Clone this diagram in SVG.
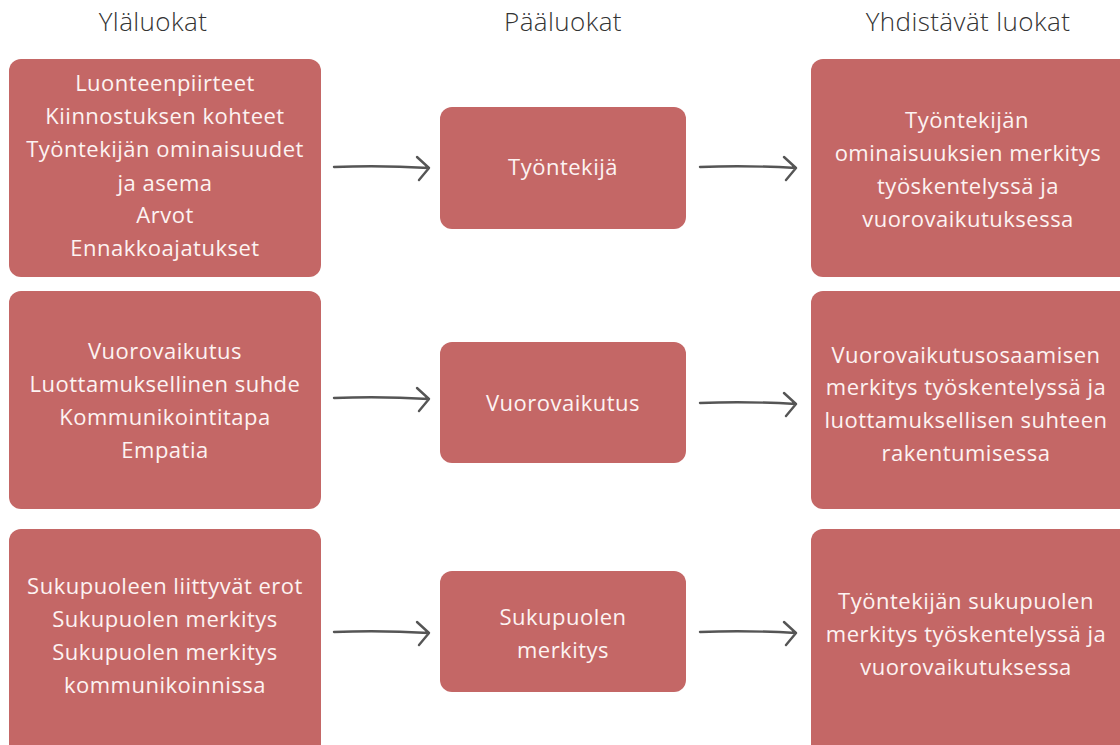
<svg xmlns="http://www.w3.org/2000/svg" width="1120" height="745" viewBox="0 0 1120 745">
<defs>
<style>
.box{fill:#c46766}
.t{font-family:"Open Sans","Liberation Sans",sans-serif;font-size:22px;letter-spacing:0.5px;fill:#fdf3f2;text-anchor:middle}
.h{font-family:"Open Sans","Liberation Sans",sans-serif;font-size:26px;font-weight:300;letter-spacing:0.4px;fill:#333;text-anchor:middle}
.c{fill:none;stroke:#555;stroke-width:2.4;stroke-linecap:round;stroke-linejoin:round}
</style>
</defs>
<rect width="1120" height="745" fill="#fff"/>
<g id="headers">
<text class="h" x="153" y="31">Yläluokat</text>
<text class="h" x="563" y="31">Pääluokat</text>
<text class="h" x="968" y="31">Yhdistävät luokat</text>
</g>
<g id="connectors">
<path class="c" d="M334 167 Q380 165 429 168 M417 157 L429 168 L419 180"/>
<path class="c" d="M700 167 Q746 165 796 168 M784 157 L796 168 L786 180"/>
<path class="c" d="M334 398 Q380 396 429 399 M417 388 L429 399 L419 411"/>
<path class="c" d="M700 403 Q746 401 796 404 M784 393 L796 404 L786 416"/>
<path class="c" d="M334 632 Q380 630 429 633 M417 622 L429 633 L419 645"/>
<path class="c" d="M700 632 Q746 630 796 633 M784 622 L796 633 L786 645"/>
</g>
<g id="n-yla1">
<rect class="box" x="9" y="59" width="312" height="218" rx="12"/>
<text class="t" x="165" y="91">Luonteenpiirteet</text>
<text class="t" x="165" y="124">Kiinnostuksen kohteet</text>
<text class="t" x="165" y="157">Työntekijän ominaisuudet</text>
<text class="t" x="165" y="191">ja asema</text>
<text class="t" x="165" y="223">Arvot</text>
<text class="t" x="165" y="256">Ennakkoajatukset</text>
</g>
<g id="n-yla2">
<rect class="box" x="9" y="291" width="312" height="218" rx="12"/>
<text class="t" x="165" y="359">Vuorovaikutus</text>
<text class="t" x="165" y="392">Luottamuksellinen suhde</text>
<text class="t" x="165" y="425">Kommunikointitapa</text>
<text class="t" x="165" y="458">Empatia</text>
</g>
<g id="n-yla3">
<rect class="box" x="9" y="529" width="312" height="230" rx="12"/>
<text class="t" x="165" y="594">Sukupuoleen liittyvät erot</text>
<text class="t" x="165" y="627">Sukupuolen merkitys</text>
<text class="t" x="165" y="660">Sukupuolen merkitys</text>
<text class="t" x="165" y="693">kommunikoinnissa</text>
</g>
<g id="n-paa1">
<rect class="box" x="440" y="107" width="246" height="122" rx="12"/>
<text class="t" x="563" y="175">Työntekijä</text>
</g>
<g id="n-paa2">
<rect class="box" x="440" y="342" width="246" height="121" rx="12"/>
<text class="t" x="563" y="411">Vuorovaikutus</text>
</g>
<g id="n-paa3">
<rect class="box" x="440" y="571" width="246" height="121" rx="12"/>
<text class="t" x="563" y="625">Sukupuolen</text>
<text class="t" x="563" y="658">merkitys</text>
</g>
<g id="n-yhd1">
<rect class="box" x="811" y="59" width="330" height="218" rx="12"/>
<text class="t" x="967" y="128">Työntekijän</text>
<text class="t" x="968" y="161">ominaisuuksien merkitys</text>
<text class="t" x="968" y="194">työskentelyssä ja</text>
<text class="t" x="968" y="227">vuorovaikutuksessa</text>
</g>
<g id="n-yhd2">
<rect class="box" x="811" y="291" width="330" height="218" rx="12"/>
<text class="t" x="966" y="363">Vuorovaikutusosaamisen</text>
<text class="t" x="966" y="395">merkitys työskentelyssä ja</text>
<text class="t" x="966" y="428">luottamuksellisen suhteen</text>
<text class="t" x="966" y="461">rakentumisessa</text>
</g>
<g id="n-yhd3">
<rect class="box" x="811" y="529" width="330" height="230" rx="12"/>
<text class="t" x="966" y="609">Työntekijän sukupuolen</text>
<text class="t" x="966" y="642">merkitys työskentelyssä ja</text>
<text class="t" x="966" y="675">vuorovaikutuksessa</text>
</g>
</svg>
